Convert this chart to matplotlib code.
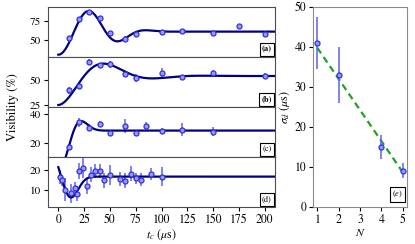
import numpy as np
import matplotlib
matplotlib.use("Agg")
from matplotlib import pyplot as plt

plt.rcParams['font.family'] = ['STIXGeneral', 'DejaVu Serif']
plt.rcParams['mathtext.fontset'] = 'stix'
plt.rcParams['font.size'] = 8

# measured visibilities (t_c in us, V in %)
t_a = [10, 20, 30, 40, 50, 65, 75, 100, 120, 150, 175, 200]
v_a = [52.5, 77.5, 87, 78.5, 59, 51.7, 58, 61, 61.3, 59, 68.6, 58]
e_a = [2.5, 2.5, 2, 2.5, 2, 3, 2.5, 2, 2, 2, 2, 2.5]

t_b = [10, 20, 30, 40, 50, 65, 75, 100, 120, 150, 200]
v_b = [40, 44.3, 67.7, 65, 66, 56, 51.7, 57, 53.3, 56.7, 54]
e_b = [3.5, 3, 3, 2, 3.5, 3, 4, 5, 2, 3, 3]

t_c = [10, 20, 30, 40, 50, 65, 75, 85, 100, 120, 150]
v_c = [17, 34.3, 30.6, 33, 27, 31.7, 27, 31.7, 28.3, 29, 27.8]
e_c = [2.3, 3.2, 2.3, 2.3, 2, 4.6, 2, 3, 2, 4.6, 3.4]

t_d = [2, 4, 6, 12, 16, 18, 20, 24, 28, 32, 36, 40, 44, 50, 60, 65, 70, 75, 80, 90, 100]
v_d = [16.5, 14.9, 10, 8.2, 10.8, 7.9, 19.8, 21.3, 11.9, 17.9, 19.8, 19.8, 14.9,
       17.6, 15.5, 14.7, 18.4, 15.9, 15.2, 18.1, 16.8]
e_d = [3.5, 3, 6, 5, 3, 4, 4, 5, 4, 4, 3.5, 3.5, 4, 5, 3.5, 4, 4, 3, 3.5, 3, 5]

# fit parameters per panel: offset, cos amp, sin amp, period, decay time, decay power
fit_a = (61, -30, 0, 61, 62, 3.0)
fit_b = (54, -29, 0, 100, 52, 1.5)
fit_c = (28.5, -27, 0, 60, 22, 2.4)
fit_d = (16.8, 4.9, -20, 70, 18.35, 2.5)

# panel (e)
N = [1, 2, 4, 5]
sigma_d = [41, 32.9, 15, 9.1]
sigma_err = [6.5, 7, 3, 1.8]
lin_N = [1, 5]
lin_sigma = [39.8, 8.7]


def model(t, c, a, b, T, s, p):
    w = 2 * np.pi / T
    return c + np.exp(-(t / s) ** p) * (a * np.cos(w * t) + b * np.sin(w * t))


fig = plt.figure(figsize=(4.15, 2.44), dpi=100)
W, H = 415.0, 244.0
x0, x1 = 48, 275
tops = [7, 57, 107, 157]
panels = [
    (t_a, v_a, e_a, fit_a, (28, 93), [50, 75], '(a)'),
    (t_b, v_b, e_b, fit_b, (23, 73), [25, 50], '(b)'),
    (t_c, v_c, e_c, fit_c, (10, 45), [20, 40], '(c)'),
    (t_d, v_d, e_d, fit_d, (1, 27), [10, 20], '(d)'),
]
tt = np.linspace(0, 210, 600)
mkw = dict(fmt='o', ms=3.6, mfc='#9a9af2', mec='#3030e0', mew=0.9,
           ecolor='#6060ee', elinewidth=1.1, capsize=0)

axes = []
for i, (t, v, e, fp, yl, yt, lab) in enumerate(panels):
    ax = fig.add_axes([x0 / W, (H - tops[i] - 50) / H, (x1 - x0) / W, 50 / H])
    ax.errorbar(t, v, yerr=e, **mkw)
    ax.plot(tt, model(tt, *fp), color='#000080', lw=1.6)
    ax.set_xlim(-10, 210)
    ax.set_ylim(*yl)
    ax.set_yticks(yt)
    ax.tick_params(direction='out', length=3, width=0.8, pad=2, labelsize=8.5)
    ax.tick_params(axis='y', labelsize=8)
    if i < 3:
        ax.tick_params(axis='x', bottom=False, labelbottom=False)
    for sp in ax.spines.values():
        sp.set_color('0.3')
    ax.text(0.985, 0.07, lab, transform=ax.transAxes, ha='right', va='bottom',
            fontsize=6, fontweight='bold' if i < 2 else 'normal',
            bbox=dict(boxstyle='square,pad=0.25', fc='white', ec='black', lw=0.8))
    axes.append(ax)

axes[-1].set_xticks([0, 25, 50, 75, 100, 125, 150, 175, 200])
axes[-1].set_xlabel(r'$t_c$ ($\mu$s)', labelpad=1, fontsize=8.5)
fig.text(0.03, (H - 107) / H, 'Visibility (%)', rotation=90, ha='center', va='center',
         fontsize=9)

axe = fig.add_axes([313 / W, (H - 207) / H, 94 / W, 200 / H])
axe.plot(lin_N, lin_sigma, '--', color='#22a022', lw=1.6, dashes=(3, 2))
axe.errorbar(N, sigma_d, yerr=sigma_err, **mkw)
axe.set_xlim(0.8, 5.2)
axe.set_ylim(0, 50)
axe.set_xticks([1, 2, 3, 4, 5])
axe.set_yticks([0, 10, 20, 30, 40, 50])
axe.tick_params(direction='out', length=3, width=0.8, pad=2, labelsize=8.5)
for sp in axe.spines.values():
    sp.set_color('0.55')
axe.set_xlabel(r'$N$', labelpad=1, fontsize=8.5)
axe.set_ylabel(r'$\sigma_d$ ($\mu$s)', labelpad=2, fontsize=8.5)
axe.text(0.96, 0.035, r'$(e)$', transform=axe.transAxes, ha='right', va='bottom',
         fontsize=6,
         bbox=dict(boxstyle='square,pad=0.25', fc='white', ec='black', lw=0.8))

fig.savefig('out.png', dpi=100)
